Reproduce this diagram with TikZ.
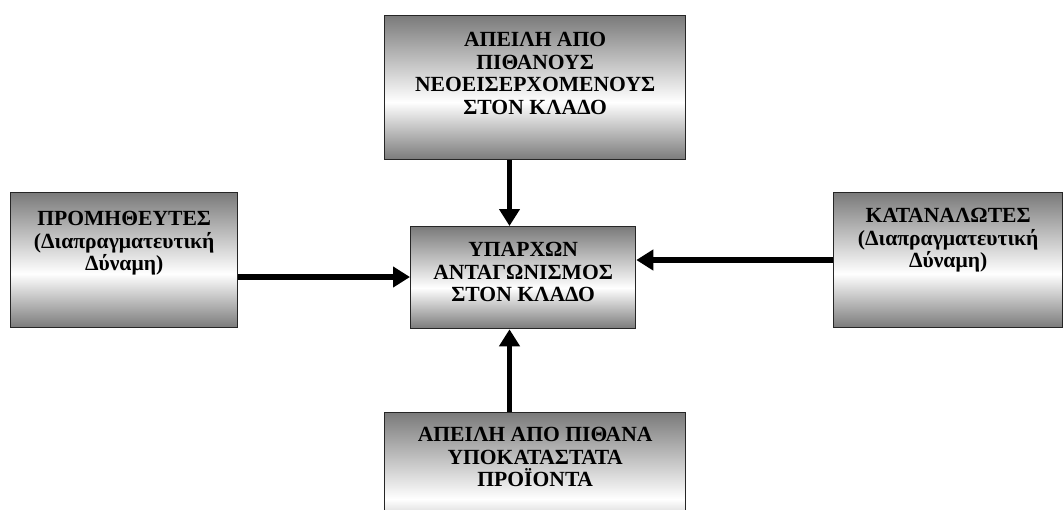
\documentclass[tikz,border=0pt]{standalone}
\usepackage{fontspec}
\setmainfont{Liberation Serif}
\usetikzlibrary{arrows.meta,positioning}
% grey at the edges, white a little below the middle
\pgfdeclareverticalshading{boxshade}{100bp}{color(0bp)=(black!52); color(25bp)=(black!52); color(45bp)=(white); color(75bp)=(black!52); color(100bp)=(black!52)}
\begin{document}
\begin{tikzpicture}[x=1pt,y=-1pt,
  forcebox/.style={draw=black!85, line width=1.3pt, shade, shading=boxshade, inner sep=0pt, anchor=north west},
  boxtext/.style={anchor=north, align=center, inner sep=0pt, font=\bfseries\fontsize{21.6}{22.5}\selectfont},
  push/.style={line width=5.5pt, -{Triangle[width=20pt,length=17pt]}}]
\useasboundingbox (0,0) rectangle (1064,509);

% the five forces
\node[forcebox, minimum width=301pt, minimum height=144pt] (entry) at (384,15) {};
\node[forcebox, minimum width=227pt, minimum height=135pt] (supp) at (10,192) {};
\node[forcebox, minimum width=225pt, minimum height=102pt] (rival) at (410,226) {};
\node[forcebox, minimum width=229pt, minimum height=135pt] (buyer) at (833,192) {};
\node[forcebox, minimum width=301pt, minimum height=144pt] (subst) at (384,412) {};

\node[boxtext, below=17pt of entry.north] (entryT) {ΑΠΕΙΛΗ ΑΠΟ\\ΠΙΘΑΝΟΥΣ\\ΝΕΟΕΙΣΕΡΧΟΜΕΝΟΥΣ\\ΣΤΟΝ ΚΛΑΔΟ};
\node[boxtext, below=19pt of supp.north] (suppT) {ΠΡΟΜΗΘΕΥΤΕΣ\\(Διαπραγματευτική\\Δύναμη)};
\node[boxtext, below=16pt of rival.north] (rivalT) {ΥΠΑΡΧΩΝ\\ΑΝΤΑΓΩΝΙΣΜΟΣ\\ΣΤΟΝ ΚΛΑΔΟ};
\node[boxtext, below=16pt of buyer.north] (buyerT) {ΚΑΤΑΝΑΛΩΤΕΣ\\(Διαπραγματευτική\\Δύναμη)};
\node[boxtext, below=15pt of subst.north] (substT) {ΑΠΕΙΛΗ ΑΠΟ ΠΙΘΑΝΑ\\ΥΠΟΚΑΤΑΣΤΑΤΑ\\ΠΡΟΪΟΝΤΑ};

% arrow lines
\coordinate (vx) at (509.5,0);
\coordinate (hl) at (0,277);
\coordinate (hr) at (0,260);

\draw[push] (entry.south -| vx) -- (rival.north -| vx);
\draw[push] (subst.north -| vx) -- (rival.south -| vx);
\draw[push] (supp.east |- hl) -- (rival.west |- hl);
\draw[push] (buyer.west |- hr) -- (rival.east |- hr);
\end{tikzpicture}
\end{document}
